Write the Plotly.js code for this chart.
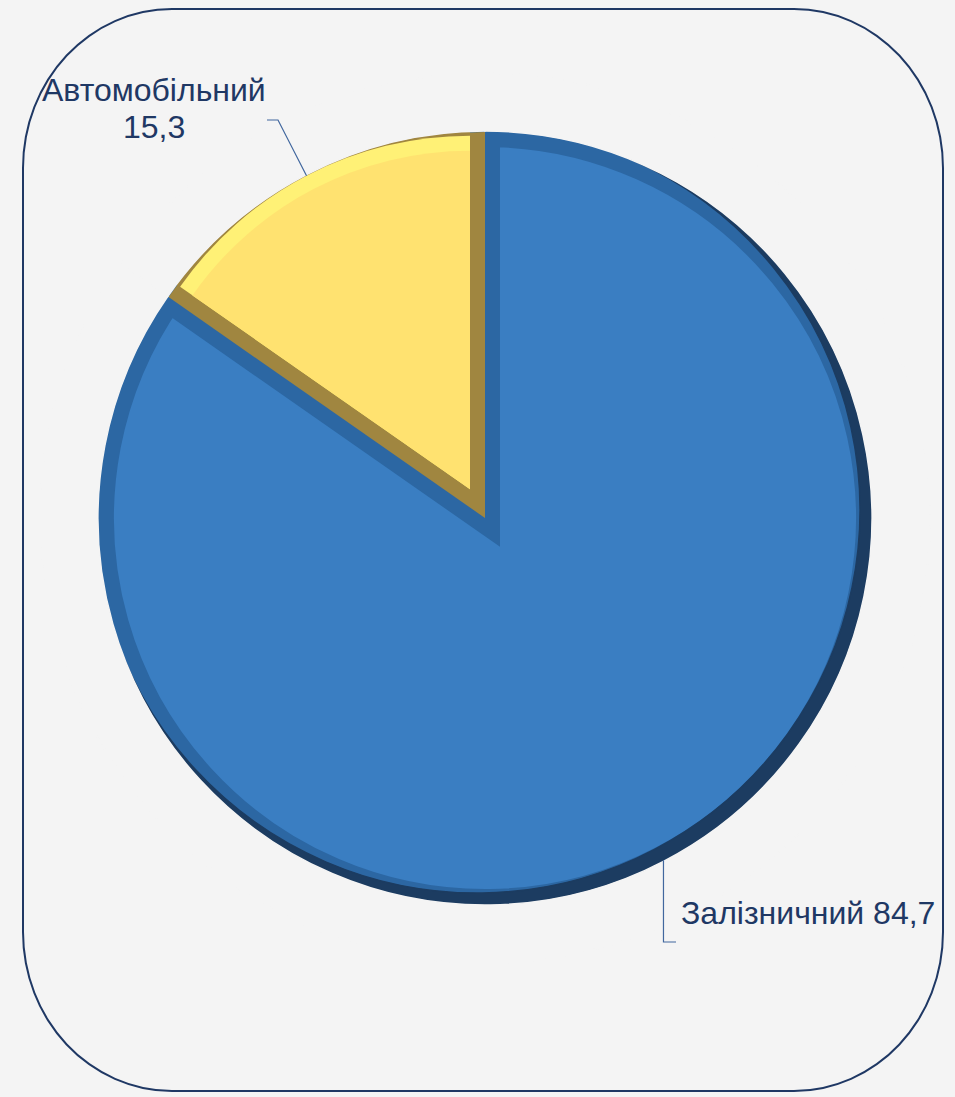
<!DOCTYPE html>
<html>
<head>
<meta charset="utf-8">
<script src="https://cdn.plot.ly/plotly-3.0.1.min.js"></script>
<style>
  html, body { margin: 0; padding: 0; background: #f4f4f4; }
  #wrap { position: relative; width: 955px; height: 1097px; }
  #chart { position: absolute; left: 0; top: 0; width: 955px; height: 1097px; }
  #chart .slice path.surface { stroke-linejoin: miter !important; stroke-miterlimit: 10 !important; }
  #frame { position: absolute; left: 22px; top: 8px; width: 922px; height: 1084px;
           box-sizing: border-box; border: 2.5px solid #1F3864; border-radius: 150px / 160px;
           pointer-events: none; }
</style>
</head>
<body>
<div id="wrap"><div id="chart"></div><div id="frame"></div></div>
<script>
// ---- data ----
const categories = ['Автомобільний', 'Залізничний'];
const values = [15.3, 84.7];
const valueLabels = ['15,3', '84,7'];

// ---- styling / geometry ----
const W = 955, H = 1097;
const BG = '#f4f4f4';
const cx = 485, cy = 518, R = 386, BEVEL = 15;
const TXT = '#1F3864';
const FONT = '"Liberation Sans", Arial, sans-serif';

const blueFace = '#3A7EC2', blueRim = '#2C67A3', blueDark = '#1C3C61';
const yellowFace = '#FFE270', yellowLight = '#FFF176', goldRim = '#A08640';
const NONE = 'rgba(0,0,0,0)';

function dom(x, y, r) {
  return { x: [(x - r) / W, (x + r) / W], y: [(H - y - r) / H, (H - y + r) / H] };
}
const total = values.reduce((a, b) => a + b, 0);
const share0 = values[0] / total;
const alpha = share0 * Math.PI;           // half-angle of first slice
const ux = -Math.sin(alpha), uy = -Math.cos(alpha); // screen direction of first-slice bisector
const d = BEVEL / Math.sin(alpha);

const base = {
  type: 'pie', labels: categories, values: values, sort: false,
  direction: 'clockwise', rotation: -360 * share0, textinfo: 'none',
  hoverinfo: 'skip', showlegend: false
};

const traces = [
  // A: faces + rims via stroke
  Object.assign({}, base, {
    domain: dom(cx, cy, R),
    marker: { colors: [goldRim, blueFace], line: { color: [goldRim, blueRim], width: 2 * BEVEL } },
    hoverinfo: 'label+value'
  }),
  // B: restore first slice to bevel colour
  Object.assign({}, base, {
    domain: dom(cx, cy, R),
    marker: { colors: [goldRim, NONE], line: { width: 0 } }
  }),
  // C: light outer rim of first slice
  Object.assign({}, base, {
    domain: dom(cx + d * ux, cy + d * uy, R - d),
    marker: { colors: [yellowLight, NONE], line: { width: 0 } }
  }),
  // D: face of first slice
  Object.assign({}, base, {
    domain: dom(cx + d * ux, cy + d * uy, R - d - BEVEL),
    marker: { colors: [yellowFace, NONE], line: { width: 0 } }
  }),
  // E: dark lower-right rim
  Object.assign({}, base, {
    domain: dom(cx - 8, cy - 8, 425), hole: 383 / 425,
    marker: { colors: [blueDark, blueDark], line: { width: 1.5, color: blueDark } }
  }),
  // F: background mask ring
  Object.assign({}, base, {
    domain: dom(cx, cy, 445), hole: 387 / 445,
    marker: { colors: [BG, BG], line: { width: 1.5, color: BG } }
  })
];

// leader lines from slice mid-angles
function px(x) { return x / W; }
function py(y) { return 1 - y / H; }
const mid0 = share0 * Math.PI;
const mid1 = 2 * share0 * Math.PI + (1 - share0) * Math.PI;
const p0 = [cx - R * Math.sin(mid0), cy - R * Math.cos(mid0)];
const p1 = [cx - R * Math.sin(mid1), cy - R * Math.cos(mid1)];

const shapes = [
  { type: 'path', xref: 'paper', yref: 'paper', layer: 'above',
    path: `M${px(p0[0])},${py(p0[1])} L${px(278)},${py(120)} L${px(267)},${py(120)}`,
    line: { color: '#41679E', width: 1.2 } },
  { type: 'path', xref: 'paper', yref: 'paper', layer: 'above',
    path: `M${px(p1[0])},${py(p1[1])} L${px(p1[0])},${py(942)} L${px(676)},${py(942)}`,
    line: { color: '#41679E', width: 1.2 } }
];

const annFont = { family: FONT, size: 32, color: TXT };
const annotations = [
  { text: categories[0], x: px(154), y: py(90), xref: 'paper', yref: 'paper',
    xanchor: 'center', yanchor: 'middle', showarrow: false, font: annFont },
  { text: valueLabels[0], x: px(154), y: py(127), xref: 'paper', yref: 'paper',
    xanchor: 'center', yanchor: 'middle', showarrow: false, font: annFont },
  { text: categories[1] + ' ' + valueLabels[1], x: px(808), y: py(913), xref: 'paper', yref: 'paper',
    xanchor: 'center', yanchor: 'middle', showarrow: false, font: annFont }
];

const layout = {
  width: W, height: H,
  margin: { l: 0, r: 0, t: 0, b: 0 },
  paper_bgcolor: BG, plot_bgcolor: BG,
  font: { family: FONT, color: TXT },
  showlegend: false,
  shapes: shapes,
  annotations: annotations
};

Plotly.newPlot('chart', traces, layout, { displayModeBar: false, staticPlot: true });
</script>
</body>
</html>
